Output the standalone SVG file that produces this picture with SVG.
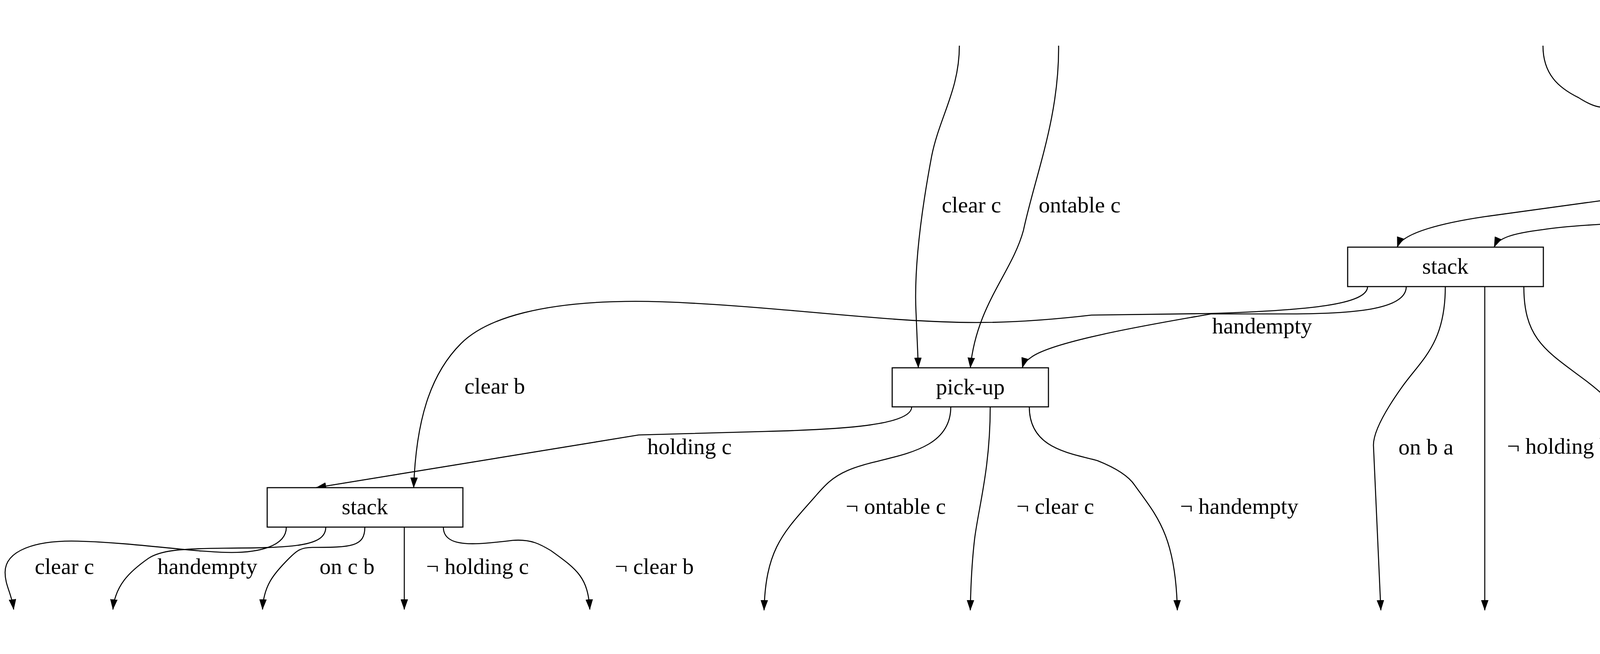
<svg xmlns="http://www.w3.org/2000/svg" width="6466" height="1675" viewBox="0 0 6466 1675">
<style>
.node rect{fill:#fff;stroke:#000;stroke-width:2.8}
.node text{font-family:"Liberation Serif","Times New Roman",serif;font-size:57.6px;text-anchor:middle;fill:#000}
.edges path{fill:none;stroke:#000;stroke-width:2.6;marker-end:url(#arr)}
.lbl text{font-family:"Liberation Serif","Times New Roman",serif;font-size:57.6px;fill:#000}
</style>
<defs>
<marker id="arr" viewBox="0 0 27 19" refX="26" refY="9.5" markerWidth="27" markerHeight="19" markerUnits="userSpaceOnUse" orient="auto">
<path d="M0,0 L27,9.5 L0,19 z" fill="#000"/>
</marker>
</defs>
<rect width="6466" height="1675" fill="#fff"/>
<g class="edges" id="connectors">
<path d="M2456,117 C2456,230 2405,300 2385,400 C2355,560 2340,700 2345,800 L2351,942"/>
<path d="M2710,117 C2712,300 2650,450 2620,590 C2590,700 2500,780 2484,942"/>
<path d="M3950,117 C3950,190 3990,225 4041,250 C4080,275 4100,280 4150,272 C4230,262 4300,240 4350,252 C4400,265 4408,300 4410,324"/>
<path d="M4313,117 C4313,180 4340,210 4380,245 C4420,285 4470,275 4510,285 C4530,292 4541,305 4541,324"/>
<path d="M4676,117 L4676,324"/>
<path d="M5026,117 C5026,300 4900,420 4600,520 C4520,545 4480,556 4440,558 C4300,566 4050,572 3950,588 C3870,598 3835,610 3825,633"/>
<path d="M5680,117 C5680,210 5740,244 5900,244 L5980,244 C6140,244 6185,300 6185,380 L6185,1306 C6185,1400 6120,1425 6060,1460 C6020,1485 6003,1510 6000,1561"/>
<path d="M4391,424 C4391,465 4330,480 4200,500 L3800,555 C3700,570 3590,595 3577,633"/>
<path d="M4492,424 C4494,600 4520,730 4560,840 C4620,1010 4680,1150 4700,1300 C4715,1420 4724,1500 4726,1563"/>
<path d="M4593,424 C4593,520 4650,553 4760,553 L4980,553 C5090,553 5130,600 5130,690 L5130,1563"/>
<path d="M4693,424 C4693,450 4760,470 4890,495 L5560,635 C5630,650 5662,665 5662,690 L5662,1561"/>
<path d="M3501,734 C3501,780 3350,795 3095,803 L2794,807 C2700,818 2600,826 2500,826 C2350,826 2200,810 2000,793 C1850,780 1700,770 1600,772 C1400,775 1250,810 1180,880 C1100,960 1065,1080 1059,1249"/>
<path d="M3600,734 C3600,790 3480,804 3300,804 L3100,804 C3000,822 2700,870 2640,915 C2625,925 2619,935 2617,942"/>
<path d="M3700,734 C3700,880 3640,920 3590,990 C3540,1060 3516,1110 3516,1140 L3535,1563"/>
<path d="M3801,734 L3801,1563"/>
<path d="M3901,734 C3901,870 3960,900 4060,975 C4140,1035 4165,1080 4190,1130 C4250,1270 4278,1350 4280,1563"/>
<path d="M2334,1042 C2334,1090 2150,1100 1960,1105 L1635,1114 L809,1249"/>
<path d="M2434,1042 C2434,1170 2260,1165 2170,1205 C2130,1222 2110,1245 2090,1268 C2010,1360 1960,1400 1956,1563"/>
<path d="M2535,1042 C2535,1200 2505,1300 2495,1380 C2488,1440 2485,1500 2484,1563"/>
<path d="M2635,1042 C2635,1150 2740,1160 2810,1180 C2860,1200 2890,1220 2905,1243 C2960,1320 3010,1370 3014,1563"/>
<path d="M733,1350 C733,1400 660,1415 593,1415 C500,1415 350,1390 200,1386 C90,1383 13,1410 13,1466 C13,1500 30,1520 35,1561"/>
<path d="M834,1350 C834,1400 750,1403 574,1404 C460,1405 410,1410 380,1430 C330,1465 295,1500 289,1561"/>
<path d="M934,1350 C934,1400 900,1402 800,1402 C770,1402 760,1410 740,1430 C700,1470 675,1500 672,1561"/>
<path d="M1035,1350 L1035,1561"/>
<path d="M1135,1350 C1135,1405 1220,1395 1312,1384 C1360,1380 1385,1395 1410,1410 C1480,1460 1505,1480 1510,1561"/>
</g>
<g class="lbl" id="edge-labels">
<text x="2411" y="544">clear c</text>
<text x="2659" y="544">ontable c</text>
<text x="4106" y="237">clear b</text>
<text x="4418" y="238">ontable b</text>
<text x="4690" y="238">handempty</text>
<text x="5023" y="389">clear a</text>
<text x="6212" y="855">ontable a</text>
<text x="4193" y="543">holding b</text>
<text x="4686" y="1008">¬ ontable b</text>
<text x="5220" y="1008">¬ clear b</text>
<text x="5713" y="1007">¬ handempty</text>
<text x="1189" y="1008">clear b</text>
<text x="3103" y="854">handempty</text>
<text x="3580" y="1164">on b a</text>
<text x="3858" y="1162">¬ holding b</text>
<text x="4300" y="1162">¬ clear a</text>
<text x="1657" y="1163">holding c</text>
<text x="2165" y="1316">¬ ontable c</text>
<text x="2602" y="1316">¬ clear c</text>
<text x="3021" y="1316">¬ handempty</text>
<text x="89" y="1470">clear c</text>
<text x="403" y="1470">handempty</text>
<text x="818" y="1470">on c b</text>
<text x="1091" y="1470">¬ holding c</text>
<text x="1574" y="1470">¬ clear b</text>
</g>
<g class="node" id="pickup-b"><rect x="4342" y="325" width="400" height="99"/><text x="4542" y="393">pick-up</text></g>
<g class="node" id="stack-b-a"><rect x="3450" y="633" width="501" height="101"/><text x="3700" y="701">stack</text></g>
<g class="node" id="pickup-c"><rect x="2284" y="942" width="400" height="100"/><text x="2484" y="1010">pick-up</text></g>
<g class="node" id="stack-c-b"><rect x="684" y="1249" width="501" height="101"/><text x="934" y="1317">stack</text></g>
</svg>
